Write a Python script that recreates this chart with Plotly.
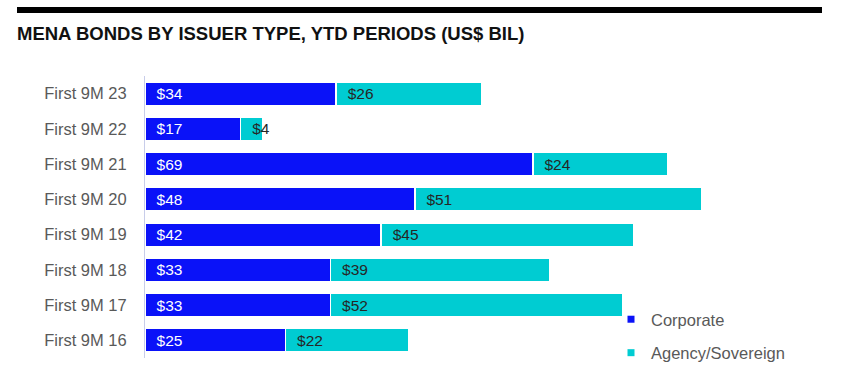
import plotly.graph_objects as go

categories = ["First 9M 23", "First 9M 22", "First 9M 21", "First 9M 20",
              "First 9M 19", "First 9M 18", "First 9M 17", "First 9M 16"]
corporate = [34, 17, 69, 48, 42, 33, 33, 25]
agency = [26, 4, 24, 51, 45, 39, 52, 22]

BLUE = "#0a12f8"
CYAN = "#00ccd2"
FONT = "Liberation Sans, Arial, sans-serif"

fig = go.Figure()
fig.add_trace(go.Bar(
    y=categories, x=corporate, orientation="h", name="Corporate",
    marker=dict(color=BLUE, line=dict(color="white", width=1.5)),
    text=["\u00a0\u00a0$%d" % v for v in corporate], textposition="inside",
    insidetextanchor="start", constraintext="none", textangle=0,
    textfont=dict(color="white", size=15.5, family=FONT),
    showlegend=False,
))
fig.add_trace(go.Bar(
    y=categories, x=agency, orientation="h", name="Agency/Sovereign",
    marker=dict(color=CYAN, line=dict(color="white", width=1.5)),
    text=["\u00a0\u00a0$%d" % v for v in agency], textposition="inside",
    insidetextanchor="start", constraintext="none", textangle=0,
    textfont=dict(color="#262626", size=15.5, family=FONT),
    showlegend=False,
))
# legend entries with small square markers
fig.add_trace(go.Scatter(x=[None], y=[None], mode="markers", name="Corporate",
                         marker=dict(symbol="square", size=7, color=BLUE),
                         legendgroup="a"))
fig.add_trace(go.Scatter(x=[None], y=[None], mode="markers", name="Agency/Sovereign",
                         marker=dict(symbol="square", size=7, color=CYAN),
                         legendgroup="b"))

L, R, T, B = 145, 140, 76, 24
W, H = 847, 382
pw = W - L - R
ph = H - T - B

fig.update_layout(
    width=W, height=H,
    margin=dict(l=L, r=R, t=T, b=B, autoexpand=False),
    barmode="stack", bargap=0.33,
    plot_bgcolor="white", paper_bgcolor="white",
    font=dict(family=FONT, size=16, color="#595959"),
    title=dict(text="<b>MENA BONDS BY ISSUER TYPE, YTD PERIODS (US$ BIL)</b>",
               x=17 / W, xanchor="left", y=1 - 34 / H, yanchor="middle",
               font=dict(size=18.5, color="#111111", family=FONT)),
    xaxis=dict(range=[0, 100], showgrid=False, zeroline=False,
               showticklabels=False, showline=False, fixedrange=True),
    yaxis=dict(categoryorder="array", categoryarray=categories[::-1],
               showgrid=False, zeroline=False, showline=True,
               linecolor="#c8cdea", linewidth=1, ticks="",
               ticklabelstandoff=14, fixedrange=True,
               tickfont=dict(size=16.5, color="#595959")),
    legend=dict(x=(611 - L) / pw, xanchor="left", y=(H - B - 302) / ph,
                yanchor="top", tracegroupgap=9,
                font=dict(size=16.5, color="#595959"), bgcolor="rgba(0,0,0,0)"),
    shapes=[dict(type="rect", xref="paper", yref="paper",
                 x0=(17 - L) / pw, x1=(822 - L) / pw,
                 y0=1 + (T - 13) / ph, y1=1 + (T - 7) / ph,
                 fillcolor="black", line=dict(width=0))],
)

fig.write_html("out.html", config={"displayModeBar": False},
               post_script="document.body.style.margin='0';")
